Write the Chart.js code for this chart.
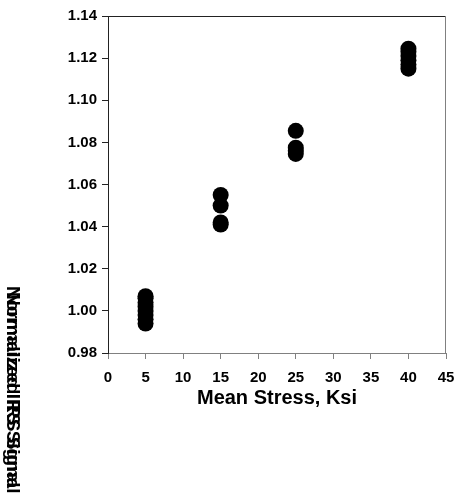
<!DOCTYPE html>
<html>
<head>
<meta charset="utf-8">
<script src="https://cdn.jsdelivr.net/npm/chart.js"></script>
<style>
  body { margin: 0; background: #fff; }
  #wrap { width: 456px; height: 499px; }
</style>
</head>
<body>
<div id="wrap"><canvas id="chart"></canvas></div>
<script>
// stress levels (Ksi) and normalized IRS signal readings
const stress5 = [0.994, 0.996, 0.998, 1.000, 1.002, 1.004, 1.006, 1.007];
const stress15 = [1.055, 1.050, 1.042, 1.041];
const stress25 = [1.0855, 1.0775, 1.0760, 1.0745];
const stress40 = [1.1245, 1.123, 1.121, 1.119, 1.117, 1.115];
const stressLevels = [5, 15, 25, 40];
const xTicks = [0, 5, 10, 15, 20, 25, 30, 35, 40, 45];
const yTicks = [0.98, 1.00, 1.02, 1.04, 1.06, 1.08, 1.10, 1.12, 1.14];

const groups = [stress5, stress15, stress25, stress40];
const points = [];
groups.forEach(function(vals, i) {
  vals.forEach(function(v) {
    points.push({ x: stressLevels[i], y: v });
  });
});

const frame = {
  id: "frame",
  afterDraw: function(chart) {
    const ctx = chart.ctx;
    const a = chart.chartArea;
    ctx.save();
    ctx.lineWidth = 1;
    ctx.strokeStyle = "#222";
    ctx.beginPath();
    ctx.moveTo(a.left, a.top + 0.5);
    ctx.lineTo(a.right, a.top + 0.5);
    ctx.stroke();
    ctx.strokeStyle = "#808080";
    ctx.beginPath();
    ctx.moveTo(a.right - 0.5, a.top);
    ctx.lineTo(a.right - 0.5, a.bottom);
    ctx.stroke();

    // the y title sits down in the bottom-left corner, doubled up
    ctx.fillStyle = "#000";
    ctx.font = "bold 19px Arial, sans-serif";
    ctx.textBaseline = "middle";
    ctx.textAlign = "left";
    [0, 6].forEach(function(off) {
      ctx.save();
      ctx.translate(12, 286 + off);
      ctx.rotate(Math.PI / 2);
      ctx.fillText("Normalized IRS Signal", 0, 0);
      ctx.restore();
    });
    ctx.restore();
  }
};

new Chart(document.getElementById("chart"), {
  type: "scatter",
  data: {
    datasets: [{
      data: points,
      backgroundColor: "#000",
      borderWidth: 0,
      pointRadius: 8,
      pointHoverRadius: 8
    }]
  },
  options: {
    responsive: true,
    maintainAspectRatio: false,
    animation: false,
    events: [],
    layout: { padding: { left: 0, top: 16, right: 0, bottom: 87 } },
    plugins: { legend: { display: false }, tooltip: { enabled: false } },
    scales: {
      x: {
        type: "linear",
        min: 0,
        max: 45,
        afterFit: function(s) {
          s.height = 59;
          s.paddingLeft = 0;
          s.paddingRight = 10;
        },
        afterBuildTicks: function(s) { s.ticks = xTicks.map(function(v) { return { value: v }; }); },
        grid: { drawOnChartArea: false, drawTicks: true, tickLength: 6, tickColor: "#808080" },
        border: { color: "#808080", width: 1 },
        ticks: {
          color: "#000",
          padding: 10,
          maxRotation: 0,
          font: { family: "Arial, sans-serif", size: 15, weight: "bold" }
        },
        title: {
          display: true,
          text: "Mean Stress, Ksi",
          color: "#000",
          padding: { top: 0, bottom: 2 },
          font: { family: "Arial, sans-serif", size: 20, weight: "bold" }
        }
      },
      y: {
        type: "linear",
        min: 0.98,
        max: 1.14,
        afterFit: function(s) { s.width = 108; },
        afterBuildTicks: function(s) { s.ticks = yTicks.map(function(v) { return { value: v }; }); },
        grid: { drawOnChartArea: false, drawTicks: true, tickLength: 6, tickColor: "#222" },
        border: { color: "#222", width: 1 },
        ticks: {
          color: "#000",
          padding: 5,
          callback: function(v) { return v.toFixed(2); },
          font: { family: "Arial, sans-serif", size: 15, weight: "bold" }
        }
      }
    }
  },
  plugins: [frame]
});
</script>
</body>
</html>
